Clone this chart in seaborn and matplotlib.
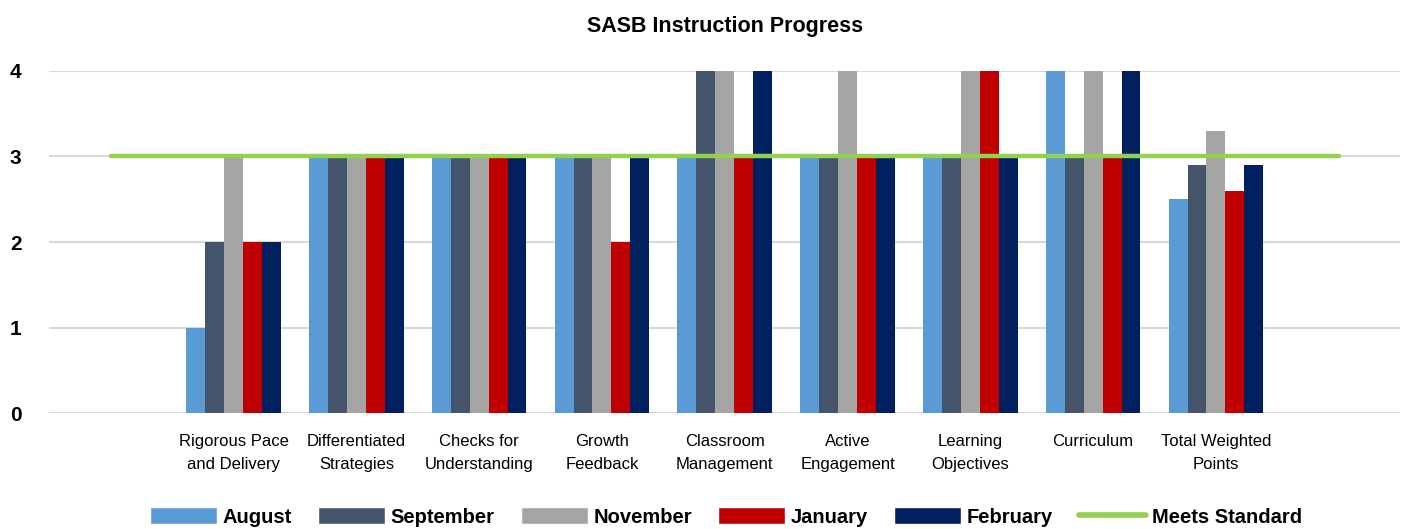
import numpy as np
import pandas as pd
import matplotlib
matplotlib.use("Agg")
import matplotlib.pyplot as plt
import seaborn as sns
from matplotlib.patches import Patch
from matplotlib.lines import Line2D

sns.set_theme(style="white")
plt.rcParams['font.family'] = ['Liberation Sans Narrow', 'Liberation Sans', 'DejaVu Sans']
plt.rcParams['text.color'] = 'black'
plt.rcParams['xtick.color'] = 'black'
plt.rcParams['ytick.color'] = 'black'

# blank slots at both ends so the standard line runs past the bars
categories = ["", "Rigorous Pace\nand Delivery", "Differentiated\nStrategies", "Checks for\nUnderstanding",
              "Growth\nFeedback", "Classroom\nManagement", "Active\nEngagement", "Learning\nObjectives",
              "Curriculum", "Total Weighted\nPoints", " "]
months = ["August", "September", "November", "January", "February"]
august    = [np.nan, 1, 3, 3, 3, 3, 3, 3, 4, 2.5, np.nan]
september = [np.nan, 2, 3, 3, 3, 4, 3, 3, 3, 2.9, np.nan]
november  = [np.nan, 3, 3, 3, 3, 4, 4, 4, 4, 3.3, np.nan]
january   = [np.nan, 2, 3, 3, 2, 3, 3, 4, 3, 2.6, np.nan]
february  = [np.nan, 2, 3, 3, 3, 4, 3, 3, 4, 2.9, np.nan]
standard  = [3] * len(categories)

colors = ["#5B9BD5", "#44546A", "#A5A5A5", "#C00000", "#002060"]
line_color = "#92D050"

df = pd.DataFrame({"category": categories, "August": august, "September": september,
                   "November": november, "January": january, "February": february})
long = df.melt(id_vars="category", var_name="month", value_name="score")

fig, ax = plt.subplots(figsize=(14.1, 5.29), dpi=100)
fig.subplots_adjust(left=0.035, right=0.993, top=0.866, bottom=0.219)

ax.set_axisbelow(True)
ax.yaxis.grid(True, color="#D9D9D9", linewidth=1.5)
sns.barplot(data=long, x="category", y="score", hue="month", order=categories, hue_order=months,
            palette=colors, saturation=1, width=0.77, linewidth=0, ax=ax, legend=False)
ax.plot(np.arange(len(categories)), standard, color=line_color, linewidth=3.2,
        solid_capstyle="round", zorder=5)

ax.set_xlim(-0.5, len(categories) - 0.5)
ax.set_ylim(0, 4)
ax.set_yticks([0, 1, 2, 3, 4])
ax.set_xlabel("")
ax.set_ylabel("")
for s in ax.spines.values():
    s.set_visible(False)
ax.tick_params(axis="y", length=0, pad=20, labelsize=15)
ax.tick_params(axis="x", length=0, pad=15, labelsize=12)
for t in ax.get_yticklabels():
    t.set_fontweight("bold")
for t in ax.get_xticklabels():
    t.set_linespacing(1.7)
ax.set_title("SASB Instruction Progress", fontsize=15.5, fontweight="bold", pad=28)

handles = [Patch(facecolor=c, label=m) for c, m in zip(colors, months)]
handles.append(Line2D([0], [0], color=line_color, linewidth=4, solid_capstyle="round", label="Meets Standard"))
fig.legend(handles=handles, loc="lower center", bbox_to_anchor=(0.515, -0.03), ncol=6, frameon=False,
           prop={"weight": "bold", "size": 14.5}, handlelength=3.3, handleheight=0.9,
           handletextpad=0.3, columnspacing=1.3)

fig.savefig("out.png", dpi=100)
